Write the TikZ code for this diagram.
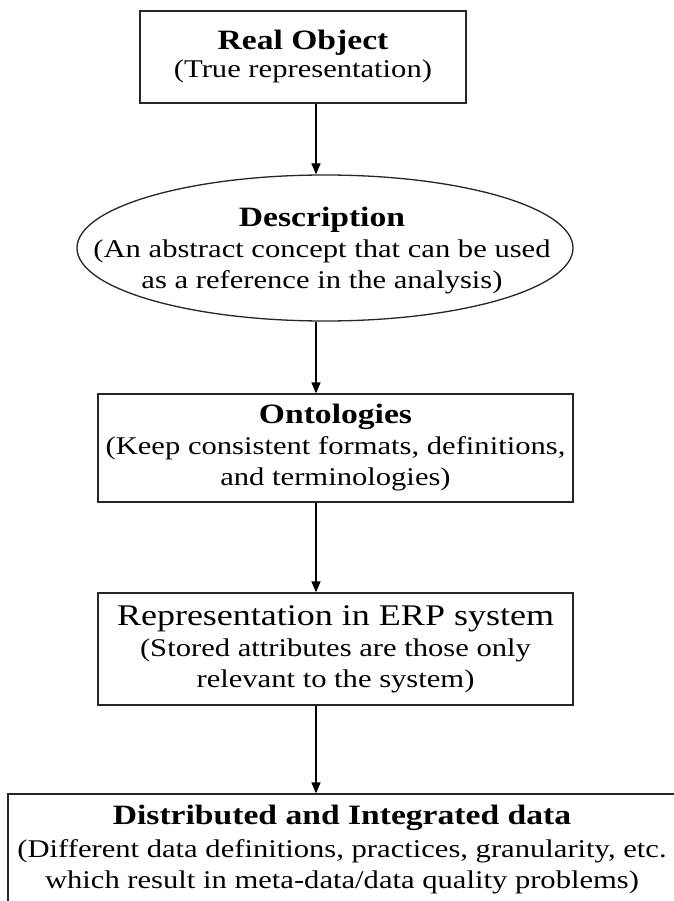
\documentclass[tikz,border=0pt]{standalone}
\usepackage{fontspec}
\setmainfont{Liberation Serif}[FakeStretch=1.2]
\usetikzlibrary{arrows.meta,shapes.geometric}
\begin{document}
\begin{tikzpicture}[x=1pt,y=-1pt,
  frame/.style={draw=black!85,line width=1.3pt,inner sep=0pt,align=center,
    font=\fontsize{25.5}{31}\selectfont},
  boxshape/.style={frame,rectangle},
  ellshape/.style={draw=black!85,line width=1.3pt,ellipse,inner sep=0pt},
  plaintext/.style={inner sep=0pt,align=center,font=\fontsize{25.5}{31}\selectfont},
  arr/.style={draw=black,line width=1.3pt,-{Triangle[length=11pt,width=9pt]}}]
\newcommand{\ttl}[1]{{\fontsize{28}{31}\selectfont\bfseries #1}}
\useasboundingbox (0,0) rectangle (673,901);
\fill[white] (0,0) rectangle (673,901);
\coordinate (ax) at (316,0);

\node[boxshape,minimum width=326pt,minimum height=92pt] (b1) at (303,57)
  {\ttl{Real Object}\\[-3pt](True representation)};

\node[ellshape,minimum width=496pt,minimum height=146pt] (el) at (325,248) {};
\node[plaintext] (elt) at (322,251)
  {\ttl{Description}\\(An abstract concept that can be used\\as a reference in the analysis)};

\node[boxshape,minimum width=475pt,minimum height=108pt] (b3) at (335.5,448)
  {\ttl{Ontologies}\\(Keep consistent formats, definitions,\\and terminologies)};

\node[boxshape,minimum width=475pt,minimum height=112pt] (b4) at (335.5,649)
  {{\fontsize{30}{31}\selectfont Representation in ERP system}\\(Stored attributes are those only\\relevant to the system)};

\node[boxshape,minimum width=668pt,minimum height=112pt] (b5) at (342,850)
  {{\fontsize{28}{31}\selectfont\bfseries Distributed and Integrated data}\\[2pt](Different data definitions, practices, granularity, etc.\\which result in meta-data/data quality problems)};

\draw[arr] (b1.south -| ax) -- (el.north -| ax);
\draw[arr] (el.south -| ax) -- (b3.north -| ax);
\draw[arr] (b3.south -| ax) -- (b4.north -| ax);
\draw[arr] (b4.south -| ax) -- (b5.north -| ax);
\end{tikzpicture}
\end{document}
